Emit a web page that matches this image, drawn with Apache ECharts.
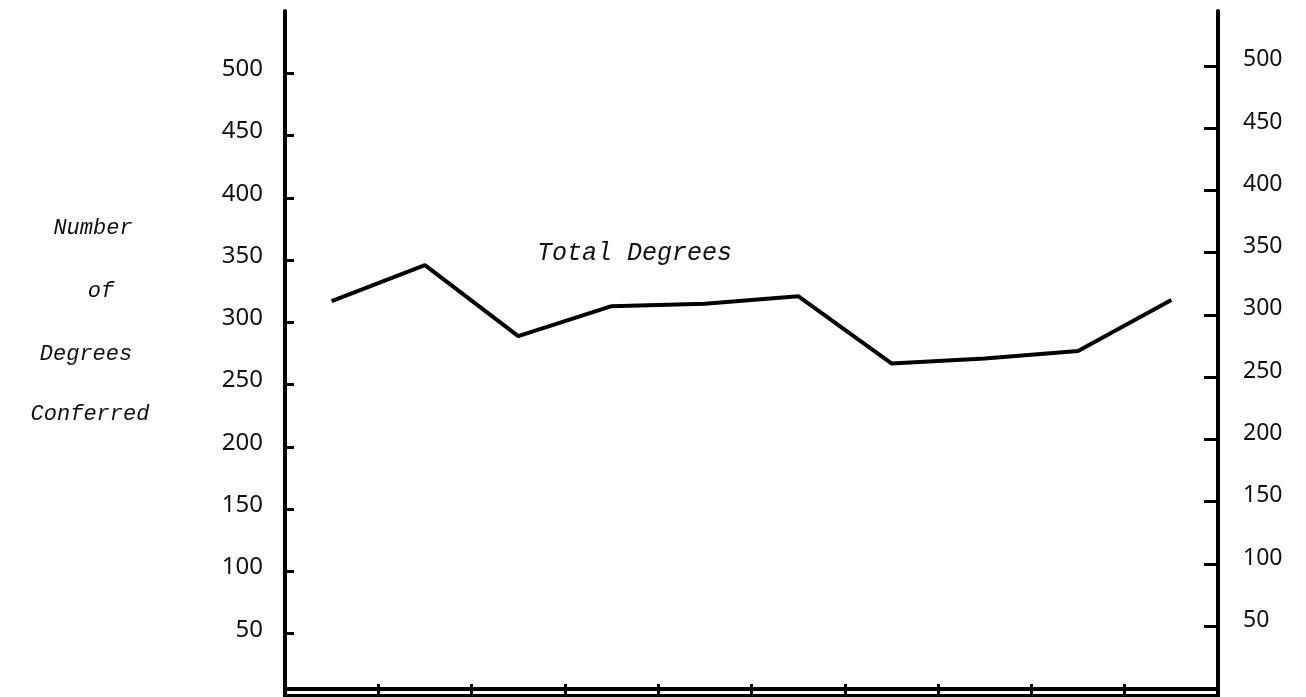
<!DOCTYPE html>
<html>
<head>
<meta charset="utf-8">
<script src="https://cdn.jsdelivr.net/npm/echarts@6/dist/echarts.min.js"></script>
<style>
html,body{margin:0;padding:0;background:#fff;}
#chart{width:1306px;height:697px;}
</style>
</head>
<body>
<div id="chart"></div>
<script>
var categories = ['1', '2', '3', '4', '5', '6', '7', '8', '9', '10'];
var totalDegrees = [317, 346, 289, 313, 315, 321, 267, 271, 277, 318];
var leftTicks = [50, 100, 150, 200, 250, 300, 350, 400, 450, 500];
var rightTicks = [50, 100, 150, 200, 250, 300, 350, 400, 450, 500];
var yTitleLines = ['Number', 'of', 'Degrees', 'Conferred'];
var seriesLabel = 'Total Degrees';

var chart = echarts.init(document.getElementById('chart'), null, {renderer: 'canvas'});
var axisLine = {show: true, lineStyle: {color: '#000', width: 4}};
var mono = "'Liberation Mono', 'DejaVu Sans Mono', monospace";

function titleText(txt, cx, cy) {
  return {type: 'text', x: cx, y: cy,
    style: {text: txt, fontFamily: mono, fontStyle: 'italic', fontSize: 22, fill: '#111',
            align: 'center', verticalAlign: 'middle'}};
}

chart.setOption({
  animation: false,
  backgroundColor: '#fff',
  grid: {left: 285, right: 88, top: 11, bottom: 1, containLabel: false},
  xAxis: [
    {type: 'category', data: categories, position: 'bottom', boundaryGap: true,
     axisLine: axisLine, axisLabel: {show: false},
     axisTick: {show: true, inside: true, length: 12, lineStyle: {color: '#000', width: 3}},
     splitLine: {show: false}},
    {type: 'category', data: categories, position: 'top', boundaryGap: true,
     axisLine: axisLine, axisLabel: {show: false},
     axisTick: {show: true, inside: true, length: 12, lineStyle: {color: '#000', width: 3}},
     splitLine: {show: false}}
  ],
  yAxis: [
    {type: 'value', position: 'left', min: 0, max: 550, interval: 50,
     axisLine: axisLine,
     axisTick: {show: true, inside: true, length: 9, customValues: leftTicks, lineStyle: {color: '#000', width: 3}},
     axisLabel: {margin: 22, customValues: leftTicks, fontFamily: 'Noto Sans', fontSize: 24, color: '#111',
                 verticalAlign: 'bottom', lineHeight: 8},
     splitLine: {show: false}},
    {type: 'value', position: 'right', min: -6, max: 544,
     axisLine: axisLine,
     axisTick: {show: true, inside: true, length: 14, customValues: rightTicks, lineStyle: {color: '#000', width: 3}},
     axisLabel: {margin: 25, customValues: rightTicks, fontFamily: 'Noto Sans', fontSize: 23, color: '#111',
                 verticalAlign: 'bottom', lineHeight: 12},
     splitLine: {show: false}}
  ],
  series: [
    {type: 'line', name: seriesLabel, data: totalDegrees, xAxisIndex: 0, yAxisIndex: 0,
     showSymbol: false, symbol: 'none',
     lineStyle: {color: '#000', width: 4}}
  ],
  graphic: [
    {type: 'text', left: 537, top: 241,
     style: {text: seriesLabel, fontFamily: mono, fontStyle: 'italic', fontSize: 25, fill: '#111'}},
    titleText(yTitleLines[0], 93, 228),
    titleText(yTitleLines[1], 101, 291),
    titleText(yTitleLines[2], 86, 354),
    titleText(yTitleLines[3], 90, 414)
  ]
});
</script>
</body>
</html>
